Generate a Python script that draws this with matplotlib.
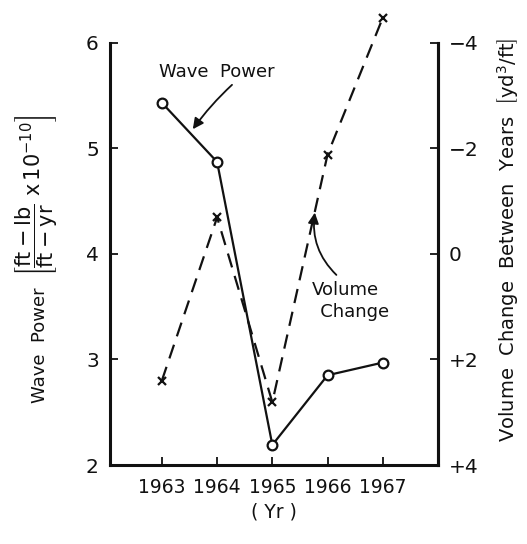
import matplotlib
matplotlib.use("Agg")
import matplotlib.pyplot as plt

# yearly values
years = [1963, 1964, 1965, 1966, 1967]
wave_power = [5.43, 4.87, 2.19, 2.85, 2.97]          # ft-lb/ft-yr x 1e-10
volume_change = [2.40, -0.69, 2.81, -1.88, -4.47]    # yd^3/ft, plotted on an inverted scale

left_ticks = [2, 3, 4, 5, 6]
right_ticks = [-4, -2, 0, 2, 4]
right_tick_labels = ["\u22124", "\u22122", "0", "+2", "+4"]

plt.rcParams["font.family"] = ["DejaVu Sans"]
plt.rcParams["mathtext.fontset"] = "dejavusans"

W, H = 527, 544
fig = plt.figure(figsize=(W / 100, H / 100), dpi=100)
ax = fig.add_axes([0.2087, 0.1452, 0.6224, 0.7765])
ax2 = ax.twinx()

ink = "#111111"

ax.plot(years, wave_power, color=ink, lw=1.6, marker="o", ms=7,
        mfc="white", mec=ink, mew=1.6, zorder=3)
ax2.plot(years, volume_change, color=ink, lw=1.6, dashes=(6.5, 4),
         marker="x", ms=6, mew=1.6, clip_on=False, zorder=2)

ax.set_xlim(1962.06, 1968.0)
ax.set_ylim(2, 6)
ax2.set_ylim(4, -4)

ax.set_xticks(years)
ax.set_yticks(left_ticks)
ax2.set_yticks(right_ticks)
ax2.set_yticklabels(right_tick_labels)

for a in (ax, ax2):
    a.spines["top"].set_visible(False)
    for s in a.spines.values():
        s.set_linewidth(2.2)
        s.set_color(ink)
    a.tick_params(direction="in", length=6, width=1.3, labelsize=14.5,
                  colors=ink, pad=8)
ax2.spines["left"].set_visible(False)
ax2.spines["bottom"].set_visible(False)
ax.tick_params(axis="x", labelsize=13.5, pad=9)

ax.set_xlabel("( Yr )", fontsize=13.5, color=ink, labelpad=4)

# axis titles placed in figure pixels
fig.text(40 / W, 1 - 345 / H, "Wave  Power", rotation=90, ha="center",
         va="center", fontsize=13, color=ink)
fig.text(37 / W, 1 - 196 / H,
         r"$\left[\dfrac{\mathrm{ft-lb}}{\mathrm{ft-yr}}\ \mathrm{x}\,10^{-10}\right]$",
         rotation=90, ha="center", va="center", fontsize=15, color=ink)
fig.text(508 / W, 1 - 240 / H,
         r"Volume  Change  Between  Years  $\left[\mathrm{yd}^3/\mathrm{ft}\right]$",
         rotation=90, ha="center", va="center", fontsize=14, color=ink)

# series callouts
arrow_kw = dict(arrowstyle="-|>", color=ink, lw=1.3, mutation_scale=16,
                shrinkA=0, shrinkB=0)
ax.text(1964.0, 5.72, "Wave  Power", ha="center", va="center",
        fontsize=13, color=ink)
ax.annotate("", xy=(1963.56, 5.18), xytext=(1964.27, 5.6),
            arrowprops=dict(arrow_kw, connectionstyle="arc3,rad=0.05"))
ax.text(1966.33, 3.55, "Volume\n   Change", ha="center", va="center",
        fontsize=13, color=ink, linespacing=1.3)
ax.annotate("", xy=(1965.77, 4.39), xytext=(1966.16, 3.8),
            arrowprops=dict(arrow_kw, connectionstyle="arc3,rad=-0.25"))

fig.savefig("out.png", dpi=100, facecolor="white")
